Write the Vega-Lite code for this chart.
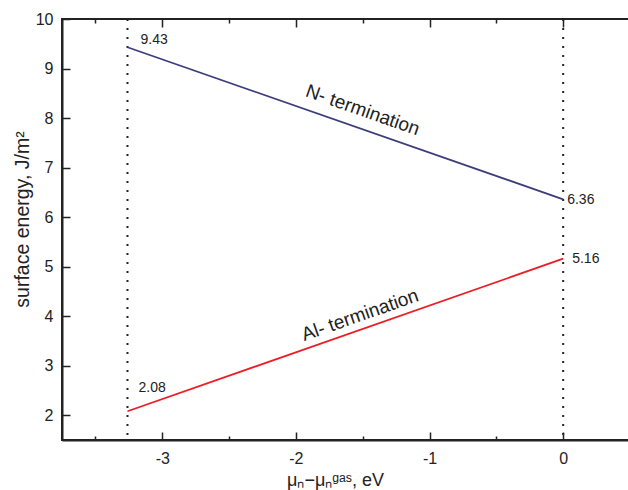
{
  "$schema": "https://vega.github.io/schema/vega-lite/v6.json",
  "autosize": "none",
  "padding": {"left": 62, "top": 19, "right": 0, "bottom": 50},
  "width": 568,
  "height": 421,
  "config": {
    "font": "Liberation Sans",
    "view": {"stroke": "#222", "strokeWidth": 2},
    "axis": {
      "domainColor": "#222", "domainWidth": 2, "tickColor": "#222", "tickWidth": 1.5,
      "labelColor": "#222", "titleColor": "#222", "labelFontSize": 16, "titleFontSize": 18,
      "titleFontWeight": "normal", "grid": false, "labelFont": "Liberation Sans", "titleFont": "Liberation Sans"
    }
  },
  "datasets": {
    "lines": [
      {"term": "N", "mu": -3.26, "E": 9.43},
      {"term": "N", "mu": 0, "E": 6.36},
      {"term": "Al", "mu": -3.26, "E": 2.08},
      {"term": "Al", "mu": 0, "E": 5.16}
    ],
    "bounds": [{"mu": -3.26}, {"mu": 0}]
  },
  "layer": [
    {
      "data": {"name": "bounds"},
      "mark": {"type": "rule", "color": "#222", "strokeWidth": 2, "strokeDash": [2, 7]},
      "encoding": {
        "x": {
          "field": "mu", "type": "quantitative",
          "scale": {"domain": [-3.75, 0.5], "nice": false, "zero": false},
          "axis": {
            "orient": "bottom",
            "title": "μₙ−μₙᵍᵃˢ, eV",
            "titleX": 273,
            "values": [-3.5, -3, -2.5, -2, -1.5, -1, -0.5, 0],
            "labelExpr": "datum.value % 1 === 0 ? toString(datum.value) : ''",
            "tickSize": {"condition": {"test": "datum.value % 1 === 0", "value": -8}, "value": -4},
            "labelPadding": 18,
            "titlePadding": 5
          }
        }
      }
    },
    {
      "data": {"name": "lines"},
      "mark": {"type": "line", "strokeWidth": 1.8},
      "encoding": {
        "x": {
          "field": "mu", "type": "quantitative",
          "axis": {
            "orient": "top", "labels": false, "title": null, "domain": false,
            "values": [-3.5, -3, -2.5, -2, -1.5, -1, -0.5, 0],
            "tickSize": {"condition": {"test": "datum.value % 1 === 0", "value": -8}, "value": -4}
          }
        },
        "y": {
          "field": "E", "type": "quantitative",
          "scale": {"domain": [1.5, 10], "nice": false, "zero": false},
          "axis": {
            "title": "surface energy, J/m²",
            "titleFontSize": 19.5,
            "titleY": 200,
            "values": [2, 2.5, 3, 3.5, 4, 4.5, 5, 5.5, 6, 6.5, 7, 7.5, 8, 8.5, 9, 9.5, 10],
            "labelExpr": "datum.value % 1 === 0 ? toString(datum.value) : ''",
            "tickSize": {"condition": {"test": "datum.value % 1 === 0", "value": -8}, "value": -5},
            "labelPadding": 17,
            "titlePadding": 3
          }
        },
        "color": {
          "field": "term", "type": "nominal", "legend": null,
          "scale": {"domain": ["N", "Al"], "range": ["#3d3d7d", "#ee1c24"]}
        }
      }
    },
    {
      "data": {"values": [{"mu": -3.26, "E": 9.43, "t": "9.43"}]},
      "mark": {"type": "text", "align": "left", "baseline": "alphabetic", "dx": 13, "dy": -3, "fontSize": 14, "color": "#222"},
      "encoding": {"x": {"field": "mu", "type": "quantitative", "axis": null}, "y": {"field": "E", "type": "quantitative"}, "text": {"field": "t"}}
    },
    {
      "data": {"values": [{"mu": -3.26, "E": 2.08, "t": "2.08"}]},
      "mark": {"type": "text", "align": "left", "baseline": "alphabetic", "dx": 11, "dy": -19, "fontSize": 14, "color": "#222"},
      "encoding": {"x": {"field": "mu", "type": "quantitative", "axis": null}, "y": {"field": "E", "type": "quantitative"}, "text": {"field": "t"}}
    },
    {
      "data": {"values": [{"mu": 0, "E": 6.36, "t": "6.36"}]},
      "mark": {"type": "text", "align": "left", "baseline": "middle", "dx": 4, "dy": 1, "fontSize": 14, "color": "#222"},
      "encoding": {"x": {"field": "mu", "type": "quantitative", "axis": null}, "y": {"field": "E", "type": "quantitative"}, "text": {"field": "t"}}
    },
    {
      "data": {"values": [{"mu": 0, "E": 5.16, "t": "5.16"}]},
      "mark": {"type": "text", "align": "left", "baseline": "middle", "dx": 9, "dy": 0, "fontSize": 14, "color": "#222"},
      "encoding": {"x": {"field": "mu", "type": "quantitative", "axis": null}, "y": {"field": "E", "type": "quantitative"}, "text": {"field": "t"}}
    },
    {
      "data": {"values": [{"mu": -1.5, "E": 8.16, "t": "N- termination"}]},
      "mark": {"type": "text", "align": "center", "baseline": "middle", "angle": 19.3, "fontSize": 19, "color": "#222"},
      "encoding": {"x": {"field": "mu", "type": "quantitative", "axis": null}, "y": {"field": "E", "type": "quantitative"}, "text": {"field": "t"}}
    },
    {
      "data": {"values": [{"mu": -1.52, "E": 4.02, "t": "Al- termination"}]},
      "mark": {"type": "text", "align": "center", "baseline": "middle", "angle": 340.7, "fontSize": 19, "color": "#222"},
      "encoding": {"x": {"field": "mu", "type": "quantitative", "axis": null}, "y": {"field": "E", "type": "quantitative"}, "text": {"field": "t"}}
    }
  ],
  "resolve": {"axis": {"x": "independent"}}
}
